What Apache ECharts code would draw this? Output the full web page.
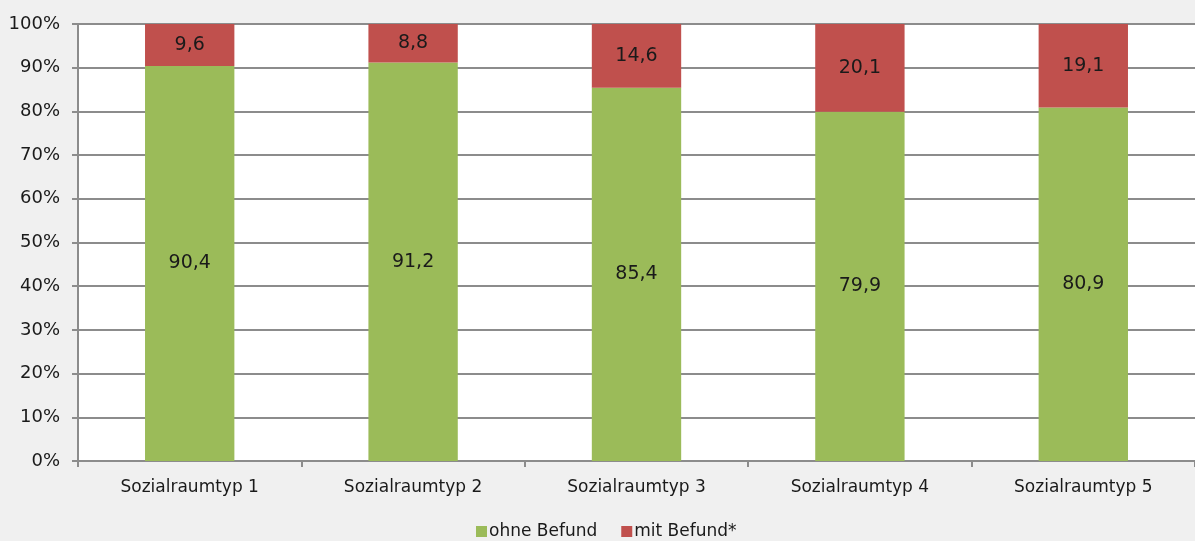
<!DOCTYPE html>
<html>
<head>
<meta charset="utf-8">
<script src="https://cdn.jsdelivr.net/npm/echarts@6/dist/echarts.min.js"></script>
<style>
  html, body { margin: 0; padding: 0; background: #f0f0f0; }
  #chart { width: 1195px; height: 541px; }
</style>
</head>
<body>
<div id="chart"></div>
<script>
// Anteil mit / ohne Befund je Sozialraumtyp (in %)
const categories = ['Sozialraumtyp 1', 'Sozialraumtyp 2', 'Sozialraumtyp 3', 'Sozialraumtyp 4', 'Sozialraumtyp 5'];
const ohneBefund = [90.4, 91.2, 85.4, 79.9, 80.9];
const mitBefund = [9.6, 8.8, 14.6, 20.1, 19.1];
const seriesNames = ['ohne Befund', 'mit Befund*'];

const FONT = 'DejaVu Sans';
const TEXT = '#1a1a1a';
const LINE = '#8c8c8c';
const fmt = p => p.value.toFixed(1).replace('.', ',');

const chart = echarts.init(document.getElementById('chart'));
chart.setOption({
  backgroundColor: '#f0f0f0',
  animation: false,
  textStyle: { fontFamily: FONT },
  grid: {
    left: 78, right: -3, top: 24, bottom: 80,
    show: true, backgroundColor: '#ffffff', borderWidth: 0
  },
  legend: {
    left: 476, bottom: 1, padding: 0,
    itemWidth: 11, itemHeight: 11, itemGap: 24,
    icon: 'rect',
    textStyle: { fontFamily: FONT, fontSize: 17, color: TEXT, padding: [0, 0, 0, -3] },
    data: seriesNames
  },
  xAxis: {
    type: 'category',
    data: categories,
    axisLine: { lineStyle: { color: LINE, width: 2 } },
    axisTick: { show: true, length: 6, lineStyle: { color: LINE, width: 2 } },
    axisLabel: { fontFamily: FONT, fontSize: 17, color: TEXT, margin: 18 }
  },
  yAxis: {
    type: 'value',
    min: 0, max: 100, interval: 10,
    axisLine: { show: true, lineStyle: { color: LINE, width: 2 } },
    axisTick: { show: true, length: 6, lineStyle: { color: LINE, width: 2 } },
    splitLine: { show: true, lineStyle: { color: LINE, width: 2 } },
    axisLabel: { fontFamily: FONT, fontSize: 18, color: TEXT, margin: 18, formatter: '{value}%' }
  },
  series: [
    {
      name: seriesNames[0], type: 'bar', stack: 'total', barWidth: '40%',
      data: ohneBefund,
      itemStyle: { color: '#9bbb59' },
      label: { show: true, position: 'inside', fontFamily: FONT, fontSize: 19, color: TEXT, formatter: fmt }
    },
    {
      name: seriesNames[1], type: 'bar', stack: 'total', barWidth: '40%',
      data: mitBefund,
      itemStyle: { color: '#c0504d' },
      label: { show: true, position: 'inside', fontFamily: FONT, fontSize: 19, color: TEXT, formatter: fmt }
    }
  ]
});
</script>
</body>
</html>
